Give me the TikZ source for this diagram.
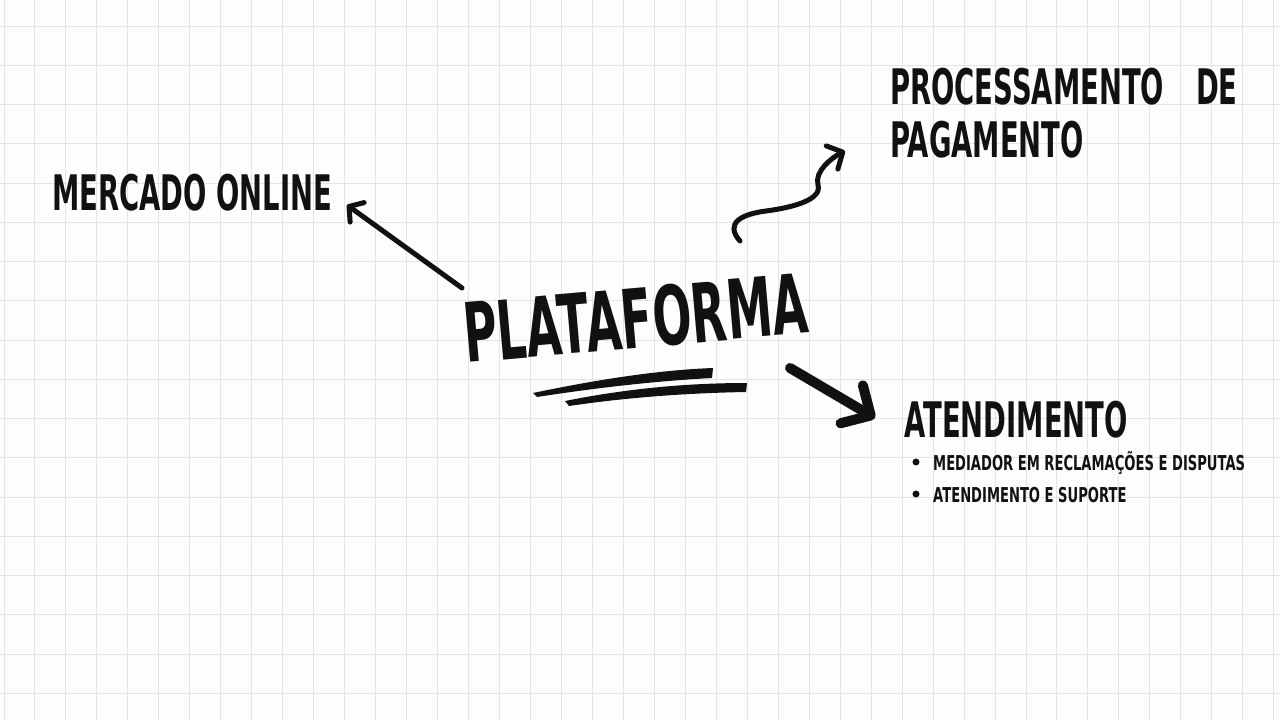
\documentclass[tikz,border=0pt]{standalone}
\usepackage{fontspec}
\usepackage{tikz}
\usetikzlibrary{positioning, arrows.meta}
\newfontfamily\brushfont{DejaVu Sans}[FakeStretch=0.56]
\newfontfamily\brushsmallfont{DejaVu Sans}[FakeStretch=0.64]
\definecolor{ink}{RGB}{17, 17, 17}
\definecolor{paper}{RGB}{253, 253, 253}
\definecolor{gridgray}{RGB}{228, 228, 228}
\tikzset{
    gridline/.style={draw=gridgray, line width=1pt},
    brushtext/.style={inner sep=0pt, text=ink, anchor=base west},
    titletext/.style={brushtext, font=\brushfont\bfseries\fontsize{82}{90}\selectfont},
    topictext/.style={brushtext, font=\brushfont\bfseries\fontsize{49}{53}\selectfont},
    itemtext/.style={brushtext, font=\brushsmallfont\bfseries\fontsize{20.5}{24}\selectfont},
    brusharrow/.style={draw=ink, line width=5pt, line cap=round, line join=round,
        -{Straight Barb[round, length=10pt, width=24pt]}},
    bigarrow/.style={brusharrow, line width=10pt,
        -{Straight Barb[round, length=22pt, width=44pt]}}
}

\begin{document}
\begin{tikzpicture}[x=1pt, y=-1pt]
    \fill[paper] (0,0) rectangle (1280,720);
    \useasboundingbox (0,0) rectangle (1280,720);
    % squared paper
    \foreach \i in {0,...,41}
        \draw[gridline] (4+30.97*\i,0) -- (4+30.97*\i,720);
    \foreach \j in {0,...,17}
        \draw[gridline] (0,26+39.25*\j) -- (1280,26+39.25*\j);

    \node[titletext, rotate=5] (plat) at (466,363) {PLATAFORMA};
    \node[topictext] (merc) at (52,210) {MERCADO ONLINE};
    \node[topictext, anchor=north west, align=left] (pag) at (890,68)
        {PROCESSAMENTO\hspace{32pt}DE\\PAGAMENTO};
    \node[topictext] (aten) at (904,437) {ATENDIMENTO};
    \node[itemtext] (item1) at ([shift={(29,33)}]aten.base west)
        {MEDIADOR EM RECLAMAÇÕES E DISPUTAS};
    \node[itemtext, below=32pt of item1.base west, anchor=base west] (item2)
        {ATENDIMENTO E SUPORTE};
    \foreach \n in {item1, item2}
        \fill[ink] ([shift={(-17,-8)}]\n.base west) circle (3.5pt);

    % brush underline
    \fill[ink] (533,393) .. controls (600,379) and (660,370) .. (713,368)
        -- (712,378) .. controls (655,381) and (595,388) .. (537,397) -- cycle;
    \fill[ink] (565,401) .. controls (630,388) and (690,383) .. (747,383)
        -- (746,392) .. controls (690,393) and (630,397) .. (569,406) -- cycle;

    % arrows
    \draw[brusharrow] ([shift={(-4,-75)}]plat.base west)
        -- ([shift={(295,-5)}]merc.base west);
    \draw[brusharrow, line width=5pt, -{Straight Barb[round, length=12pt, width=26pt]}]
        ([shift={(274,-122)}]plat.base west)
        .. controls +(-16,-18) and +(-24,3) .. (766,211)
        .. controls +(30,-4) and +(4,14) .. (818,185)
        .. controls +(-4,-14) and +(-12,6) .. ([shift={(-45,83)}]pag.north west);
    \draw[bigarrow] ([shift={(324,5)}]plat.base west)
        -- ([shift={(-29,-19)}]aten.base west);
\end{tikzpicture}
\end{document}
